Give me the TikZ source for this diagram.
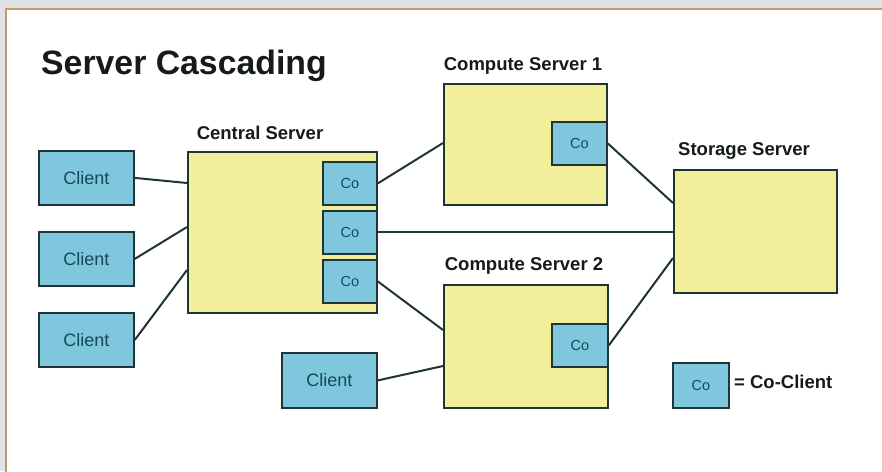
\documentclass[tikz,border=0pt]{standalone}
\usepackage{fontspec}
\setmainfont{Liberation Sans}
\usetikzlibrary{calc}

\definecolor{pagegrey}{HTML}{DFE3E8}
\definecolor{frametan}{HTML}{C09A6B}
\definecolor{serveryellow}{HTML}{F2EE9A}
\definecolor{clientblue}{HTML}{7EC7DD}
\definecolor{edgedark}{HTML}{1E3538}
\definecolor{inkteal}{HTML}{17495A}
\definecolor{inkdark}{HTML}{151A1C}

\tikzset{
  server/.style={draw=edgedark, fill=serveryellow, line width=2pt,
    anchor=north west, inner sep=0pt},
  client/.style={draw=edgedark, fill=clientblue, line width=1.8pt,
    anchor=north west, inner sep=0pt, text=inkteal,
    font=\fontsize{18}{20}\selectfont},
  coclient/.style={client, font=\fontsize{14.5}{16}\selectfont},
  label/.style={anchor=base, text=inkdark,
    font=\bfseries\fontsize{18.5}{20}\selectfont, inner sep=0pt},
  link/.style={draw=edgedark, line width=2pt},
}

\begin{document}
\begin{tikzpicture}[x=1pt, y=-1pt]
\useasboundingbox (0,0) rectangle (882,471);
\clip (0,0) rectangle (882,471);

% page background and framed white panel
\fill[pagegrey] (0,0) rectangle (882,471);
\filldraw[fill=white, draw=frametan, line width=2pt] (5.7,8.5) rectangle (900,490);

% title
\node[anchor=base west, inner sep=0pt, text=inkdark,
  font=\bfseries\fontsize{33.8}{38}\selectfont] (title) at (41,74) {Server Cascading};

% left clients
\node[client, minimum width=95pt, minimum height=54pt] (cl1) at (38,150) {Client};
\node[client, minimum width=95pt, minimum height=54pt] (cl2) at (38,231) {Client};
\node[client, minimum width=95pt, minimum height=54pt] (cl3) at (38,312) {Client};

% central server with three co-clients
\node[label] (centrallbl) at (260,139) {Central Server};
\node[server, minimum width=189pt, minimum height=161pt] (central) at (187,151) {};
\node[coclient, minimum width=54pt, minimum height=43pt] (coA) at (322,161) {Co};
\node[coclient, minimum width=54pt, minimum height=43pt] (coB) at (322,210) {Co};
\node[coclient, minimum width=54pt, minimum height=43pt] (coC) at (322,259) {Co};

% compute server 1
\node[label] (cs1lbl) at (523,70) {Compute Server 1};
\node[server, minimum width=163pt, minimum height=121pt] (cs1) at (443,83) {};
\node[coclient, minimum width=55pt, minimum height=43pt] (cs1co) at (551,121) {Co};

% compute server 2
\node[label] (cs2lbl) at (524,270) {Compute Server 2};
\node[server, minimum width=164pt, minimum height=123pt] (cs2) at (443,284) {};
\node[coclient, minimum width=56pt, minimum height=43pt] (cs2co) at (551,323) {Co};

% lone client below
\node[client, minimum width=95pt, minimum height=55pt] (cl4) at (281,352) {Client};

% storage server
\node[label] (storelbl) at (744,155) {Storage Server};
\node[server, minimum width=163pt, minimum height=123pt] (store) at (673,169) {};

% legend
\node[coclient, minimum width=56pt, minimum height=45pt] (legco) at (672,362) {Co};
\node[anchor=west, inner sep=0pt, text=inkdark,
  font=\bfseries\fontsize{18.5}{20}\selectfont] (legtxt) at (734,382) {= Co-Client};

% connectors
\draw[link] (cl1.east) -- ($(central.north west)+(0,32)$);
\draw[link] (cl2.east) -- ($(central.north west)+(0,76)$);
\draw[link] (cl3.east) -- ($(central.north west)+(0,119)$);
\draw[link] (coA.east) -- ($(cs1.north west)+(0,60)$);
\draw[link] (coB.east) -- (store.west |- coB.east);
\draw[link] (coC.east) -- ($(cs2.north west)+(0,46)$);
\draw[link] (cl4.east) -- ($(cs2.north west)+(0,82)$);
\draw[link] (cs1co.east) -- ($(store.north west)+(0,34)$);
\draw[link] (cs2co.east) -- ($(store.north west)+(0,89)$);
\end{tikzpicture}
\end{document}
